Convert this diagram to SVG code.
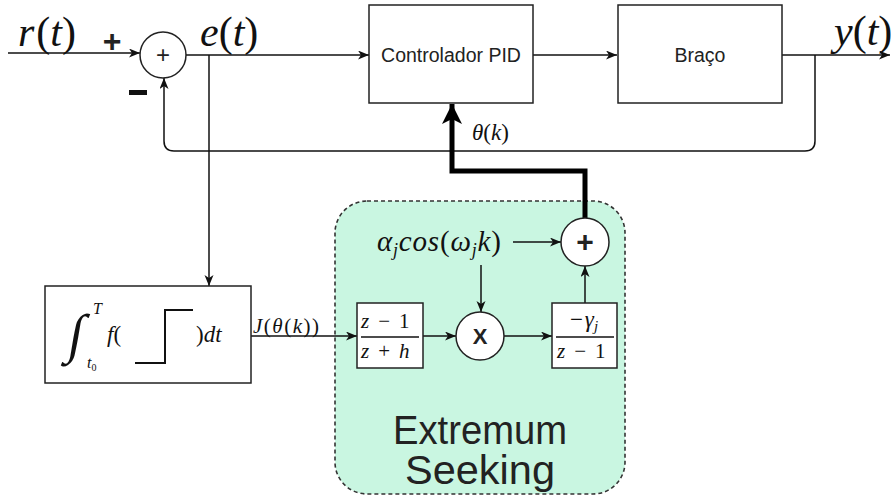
<svg xmlns="http://www.w3.org/2000/svg" width="891" height="498" viewBox="0 0 891 498">
  <defs>
    <marker id="arr" markerUnits="userSpaceOnUse" markerWidth="12" markerHeight="10" refX="11" refY="4.5" orient="auto">
      <path d="M0,0 L11,4.5 L0,9 L3,4.5 z" fill="#111"/>
    </marker>
    <marker id="arrBig" markerUnits="userSpaceOnUse" markerWidth="22" markerHeight="22" refX="20" refY="10" orient="auto">
      <path d="M0,0 L20,10 L0,20 L5,10 z" fill="#000"/>
    </marker>
    <style>
      .ln { fill: none; stroke: #111; stroke-width: 1.5; }
      .blk { fill: #fff; stroke: #222; stroke-width: 1.5; }
      .lbl { font-family: "Liberation Sans", Arial, sans-serif; fill: #222; }
      .m { font-family: "Liberation Serif", "Times New Roman", serif; fill: #111; }
      .i { font-style: italic; }
    </style>
  </defs>

  <!-- extremum seeking region -->
  <g id="es-region">
    <rect x="335" y="201" width="290" height="293" rx="32" fill="#c9f6e1" stroke="#333" stroke-width="1.6" stroke-dasharray="4 3"/>
    <text class="lbl" x="480" y="444" font-size="40" text-anchor="middle" textLength="174" lengthAdjust="spacingAndGlyphs">Extremum</text>
    <text class="lbl" x="480" y="484" font-size="40" text-anchor="middle" textLength="150" lengthAdjust="spacingAndGlyphs">Seeking</text>
  </g>

  <!-- connectors -->
  <g id="connectors">
    <line class="ln" x1="8" y1="53" x2="140" y2="53" marker-end="url(#arr)"/>
    <line class="ln" x1="186" y1="55" x2="369" y2="55" marker-end="url(#arr)"/>
    <line class="ln" x1="533" y1="55" x2="617" y2="55" marker-end="url(#arr)"/>
    <line class="ln" x1="782" y1="55" x2="890" y2="55" marker-end="url(#arr)"/>
    <path class="ln" d="M815,55 V141 Q815,151 805,151 H174 Q164,151 164,141 V78" marker-end="url(#arr)"/>
    <line class="ln" x1="209" y1="55" x2="209" y2="286" marker-end="url(#arr)"/>
    <line class="ln" x1="251" y1="336" x2="357" y2="336" marker-end="url(#arr)"/>
    <line class="ln" x1="423" y1="336" x2="456" y2="336" marker-end="url(#arr)"/>
    <line class="ln" x1="504" y1="336" x2="552" y2="336" marker-end="url(#arr)"/>
    <line class="ln" x1="513" y1="242" x2="561" y2="242" marker-end="url(#arr)"/>
    <line class="ln" x1="481" y1="265" x2="481" y2="312" marker-end="url(#arr)"/>
    <line class="ln" x1="585" y1="303" x2="585" y2="266" marker-end="url(#arr)"/>
    <path d="M585,218 V171 H452 V104" fill="none" stroke="#000" stroke-width="5" marker-end="url(#arrBig)"/>
  </g>

  <!-- signal labels -->
  <g id="signal-labels">
    <text class="m" x="18" y="46" font-size="42"><tspan class="i">r</tspan><tspan dx="2">(</tspan><tspan class="i">t</tspan>)</text>
    <text class="m" x="200" y="46" font-size="42"><tspan class="i">e</tspan>(<tspan class="i">t</tspan>)</text>
    <text class="m" x="834" y="45" font-size="42"><tspan class="i">y</tspan>(<tspan class="i">t</tspan>)</text>
    <text class="lbl" x="112" y="52" font-size="32" font-weight="bold" text-anchor="middle" fill="#111">+</text>
    <rect x="129" y="90" width="18" height="5" fill="#111"/>
    <text class="m" x="472" y="140" font-size="23"><tspan class="i">θ</tspan>(<tspan class="i">k</tspan>)</text>
    <text class="m" x="253" y="333" font-size="21" letter-spacing="1.5"><tspan class="i">J</tspan>(<tspan class="i">θ</tspan>(<tspan class="i">k</tspan>))</text>
    <text class="m" x="377" y="251" font-size="29" letter-spacing="0.8"><tspan class="i">α</tspan><tspan class="i" font-size="18" dy="5">j</tspan><tspan class="i" dy="-5">cos</tspan>(<tspan class="i">ω</tspan><tspan class="i" font-size="18" dy="5">j</tspan><tspan class="i" dy="-5">k</tspan>)</text>
  </g>

  <!-- summing junction -->
  <g id="sum">
    <circle class="blk" cx="163" cy="55" r="23"/>
    <text class="lbl" x="163" y="63" font-size="24" text-anchor="middle" fill="#111">+</text>
  </g>

  <!-- PID controller -->
  <g id="pid">
    <rect class="blk" x="369" y="5" width="164" height="98"/>
    <text class="lbl" x="451" y="62" font-size="19.5" text-anchor="middle">Controlador PID</text>
  </g>

  <!-- plant -->
  <g id="braco">
    <rect class="blk" x="618" y="5" width="164" height="98"/>
    <text class="lbl" x="700" y="62" font-size="19.5" text-anchor="middle">Braço</text>
  </g>

  <!-- cost functional -->
  <g id="cost">
    <rect class="blk" x="45" y="286" width="206" height="97"/>
    <text class="m" x="0" y="0" font-size="54" transform="translate(66,352) skewX(-10)">∫</text>
    <text class="m i" x="93" y="314" font-size="16">T</text>
    <text class="m i" x="87" y="368" font-size="16">t<tspan font-size="10" font-style="normal" dy="3">0</tspan></text>
    <text class="m" x="107" y="342" font-size="23"><tspan class="i">f</tspan>(</text>
    <path d="M135,363 H165 V310 H193" fill="none" stroke="#111" stroke-width="2"/>
    <text class="m" x="196" y="342" font-size="23">)<tspan class="i">dt</tspan></text>
  </g>

  <!-- high-pass filter -->
  <g id="hpf">
    <rect class="blk" x="357" y="303" width="66" height="65"/>
    <text class="m" x="361" y="328" font-size="21"><tspan class="i">z</tspan><tspan dx="9">−</tspan><tspan dx="9">1</tspan></text>
    <line x1="361" y1="337" x2="419" y2="337" stroke="#111" stroke-width="1.5"/>
    <text class="m" x="361" y="358" font-size="21"><tspan class="i">z</tspan><tspan dx="9">+</tspan><tspan class="i" dx="9">h</tspan></text>
  </g>

  <!-- demodulator -->
  <g id="mult">
    <circle class="blk" cx="480" cy="336" r="24"/>
    <text class="lbl" x="480" y="344" font-size="22" font-weight="bold" text-anchor="middle" fill="#111">X</text>
  </g>

  <!-- integrator -->
  <g id="integrator">
    <rect class="blk" x="552" y="303" width="65" height="65"/>
    <text class="m" x="584" y="327" font-size="23" text-anchor="middle">−<tspan class="i" dx="2">γ</tspan><tspan class="i" font-size="15" dy="4">j</tspan></text>
    <line x1="556" y1="337" x2="614" y2="337" stroke="#111" stroke-width="1.5"/>
    <text class="m" x="557" y="358" font-size="21"><tspan class="i">z</tspan><tspan dx="9">−</tspan><tspan dx="9">1</tspan></text>
  </g>

  <!-- perturbation adder -->
  <g id="adder">
    <circle class="blk" cx="585" cy="242" r="24"/>
    <text class="lbl" x="585" y="252" font-size="30" font-weight="bold" text-anchor="middle" fill="#111">+</text>
  </g>
</svg>
